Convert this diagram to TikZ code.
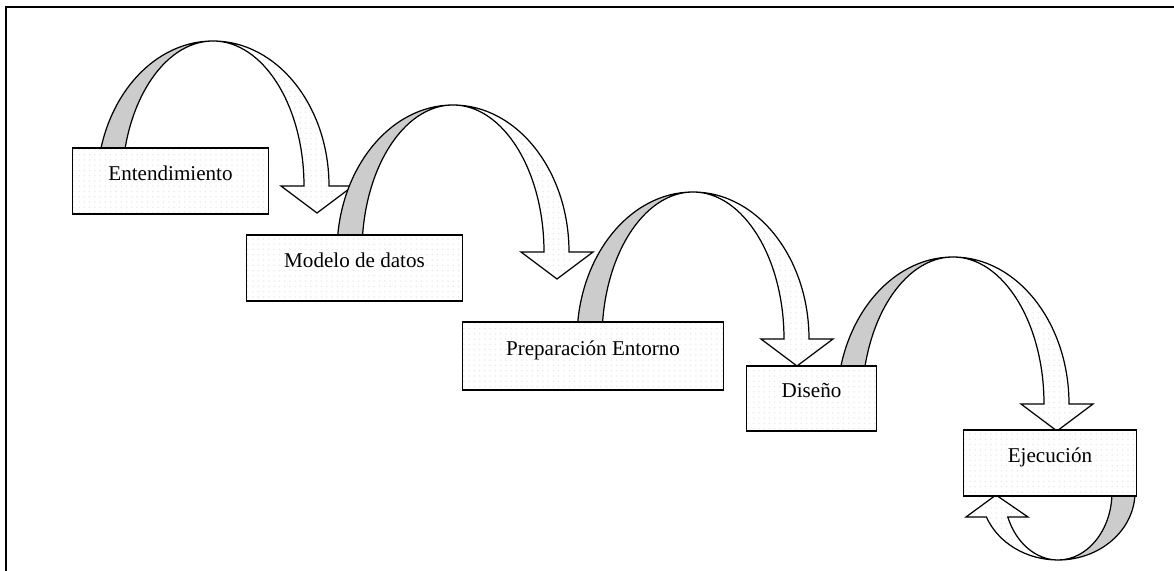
\documentclass[tikz,border=0pt]{standalone}
\usepackage{fontspec}
\setmainfont{Liberation Serif}
\usetikzlibrary{patterns}

% one arched ribbon arrow: centre (#1,#2), height #3
\newcommand\archarrow[3]{%
  \begin{scope}[shift={(#1,#2)}]
    \path[ribbonback] (0,#3) arc[start angle=90,end angle=180,x radius=116,y radius=#3]
      -- (-91,0) arc[start angle=180,end angle=90,x radius=91,y radius=#3] -- cycle;
    \path[ribbonfront] (0,#3) arc[start angle=90,end angle=0,x radius=116,y radius=#3]
      -- (140,0) -- (104,-27) -- (68,0) -- (91,0)
      arc[start angle=0,end angle=90,x radius=91,y radius=#3] -- cycle;
  \end{scope}}

\begin{document}
\begin{tikzpicture}[x=0.02cm,y=0.02cm,
  stage/.style={draw=black, line width=0.8pt, preaction={fill=white},
    pattern=dots, pattern color=black!8, inner sep=0pt,
    text height=18pt, text depth=19pt, minimum height=66*0.5669pt,
    font=\fontsize{12}{14}\selectfont},
  ribbonback/.style={draw=black, line width=0.7pt, fill=gray!40},
  ribbonfront/.style={draw=black, line width=0.7pt, preaction={fill=white},
    pattern=dots, pattern color=black!8},
]
\useasboundingbox (0,0) rectangle (1174,571);

% page frame
\draw[line width=1.2pt] (6,0) -- (6,564) -- (1174,564);

% arched arrows between consecutive stages
\archarrow{213}{385}{145}
\archarrow{453}{319}{147}
\archarrow{693}{232}{147}
\archarrow{953}{167}{147}

% loop under the last stage
\begin{scope}[shift={(1058,79)}]
  \path[ribbonback] (0,-68) arc[start angle=270,end angle=360,x radius=77,y radius=68]
    -- (54,0) arc[start angle=360,end angle=270,x radius=54,y radius=68] -- cycle;
  \path[ribbonfront] (0,-68) arc[start angle=270,end angle=201.6,x radius=77,y radius=68]
    -- (-92,-25) -- (-62,-3) -- (-30,-25) -- ({54*cos(201.6)},{68*sin(201.6)})
    arc[start angle=201.6,end angle=270,x radius=54,y radius=68] -- cycle;
\end{scope}

% stages
\node[stage, minimum width=197*0.5669pt] (ent) at (170.5,390) {Entendimiento};
\node[stage, minimum width=217*0.5669pt] (mod) at (354.5,303) {Modelo de datos};
\node[stage, minimum width=262*0.5669pt, minimum height=68*0.5669pt] (pre) at (593,215) {Preparación Entorno};
\node[stage, minimum width=131*0.5669pt, minimum height=65*0.5669pt] (dis) at (811.5,172.5) {Diseño};
\node[stage, minimum width=174*0.5669pt] (eje) at (1050,108) {Ejecución};
\end{tikzpicture}
\end{document}
